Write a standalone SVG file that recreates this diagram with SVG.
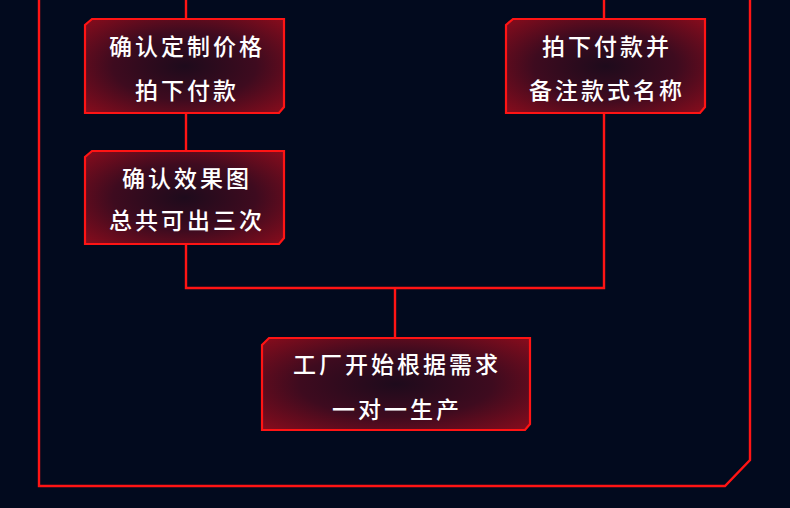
<svg xmlns="http://www.w3.org/2000/svg" width="790" height="508" viewBox="0 0 790 508">
<defs>
<radialGradient id="g" cx="50%" cy="50%" r="72%">
<stop offset="0" stop-color="#1e0b1c"/>
<stop offset="0.5" stop-color="#3e0b1f"/>
<stop offset="1" stop-color="#8c0c1c"/>
</radialGradient>
<style>
.ln{fill:none;stroke:#ff1414;stroke-width:2.4}
.bx{fill:url(#g);stroke:#ff1414;stroke-width:2.2}
.t{fill:#ffffff;font-family:"Noto Sans CJK SC","Noto Sans",sans-serif;font-size:23px;font-weight:500;letter-spacing:3px;text-anchor:middle;dominant-baseline:central}
</style>
</defs>
<rect width="790" height="508" fill="#020a1e"/>
<g id="connectors">
<polyline class="ln" points="39,0 39,486 725,486 750,460 750,0"/>
<line class="ln" x1="186" y1="0" x2="186" y2="19"/>
<line class="ln" x1="186" y1="113" x2="186" y2="151"/>
<polyline class="ln" points="186,244 186,288 604,288 604,113"/>
<line class="ln" x1="604" y1="0" x2="604" y2="19"/>
<line class="ln" x1="395" y1="288" x2="395" y2="338"/>
</g>
<g id="n1">
<path class="bx" d="M92,19 H284 V107 L279,113 H85 V25 Z"/>
<text class="t" x="187" y="45">确认定制价格</text>
<text class="t" x="187" y="89">拍下付款</text>
</g>
<g id="n2">
<path class="bx" d="M513,19 H705 V107 L700,113 H506 V25 Z"/>
<text class="t" x="607" y="45">拍下付款并</text>
<text class="t" x="607" y="89">备注款式名称</text>
</g>
<g id="n3">
<path class="bx" d="M92,151 H284 V238 L279,244 H85 V157 Z"/>
<text class="t" x="187" y="177">确认效果图</text>
<text class="t" x="187" y="219">总共可出三次</text>
</g>
<g id="n4">
<path class="bx" d="M269,338 H530 V424 L525,430 H262 V345 Z"/>
<text class="t" x="397" y="363">工厂开始根据需求</text>
<text class="t" x="397" y="408">一对一生产</text>
</g>
</svg>
